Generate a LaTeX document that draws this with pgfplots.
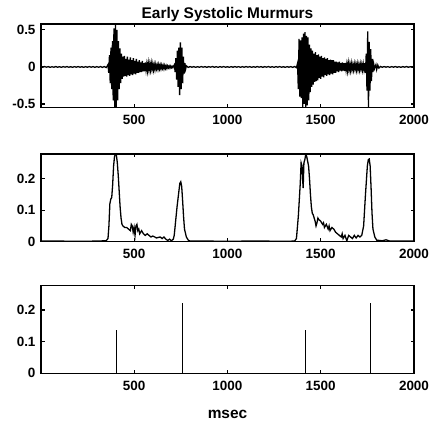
\documentclass[border=0pt]{standalone}
\usepackage{fontspec}
\setmainfont{Liberation Sans}
\usepackage{pgfplots}
\pgfplotsset{compat=1.18}
\newcommand{\lbl}{\fontsize{13.5}{15}\selectfont\bfseries}
\newcommand{\ttl}{\fontsize{15.5}{17}\selectfont\bfseries}
\pgfplotsset{
  mat/.style={
    scale only axis, width=373bp,
    xmin=1, xmax=2000,
    xtick={500,1000,1500,2000}, xticklabels={500,1000,1500,2000},
    tick align=inside, tick pos=both,
    major tick length=3.5bp,
    axis line style={line width=1.4pt},
    tick style={line width=1.1pt, black},
    ticklabel style={font=\lbl},
    xticklabel style={yshift=-4bp},
    yticklabel style={xshift=-2bp},
    clip=true,
  },
}
\begin{document}
\begin{tikzpicture}
\path[use as bounding box] (-41bp,-50.7bp) rectangle (390bp,373.3bp);

% top: phonocardiogram
\begin{axis}[mat, at={(0,266bp)}, height=83.3bp,
  ymin=-0.545, ymax=0.58,
  ytick={-0.5,0,0.5}, yticklabels={-0.5,0,0.5},
  title={Early Systolic Murmurs},
  title style={font=\ttl, anchor=base, at={(0.5,1)}},
]
\addplot[black, line width=1.3pt] coordinates {
(0,0.003)(10,-0.004)(20,0.005)(30,-0.003)(40,0.004)(50,-0.005)(60,0.003)(70,-0.004)(80,0.005)(90,-0.004)
(100,0.003)(110,-0.005)(120,0.004)(130,-0.003)(140,0.005)(150,-0.004)(160,0.003)(170,-0.005)(180,0.004)(190,-0.003)
(200,0.005)(210,-0.004)(220,0.003)(230,-0.005)(240,0.004)(250,-0.004)(260,0.005)(270,-0.003)(280,0.004)(290,-0.005)
(300,0.004)(310,-0.004)(320,0.005)(330,-0.006)(340,0.006)(350,-0.008)(356,0.01)
(360,0.03)(364,-0.08)(368,0.16)(372,-0.22)(376,0.26)(380,-0.30)(384,0.35)(388,-0.45)(392,0.52)(396,-0.545)
(400,0.58)(404,-0.545)(408,0.50)(412,-0.45)(416,0.35)(420,-0.30)(424,0.25)(428,-0.22)(432,0.18)(436,-0.16)
(440,0.14)(444,-0.13)(448,0.15)(452,-0.12)(456,0.11)(460,-0.13)(464,0.14)(468,-0.11)(472,0.10)(476,-0.12)
(480,0.13)(484,-0.10)(488,0.09)(492,-0.11)(496,0.12)(500,-0.09)(504,0.08)(508,-0.10)(512,0.11)(516,-0.08)
(520,0.07)(524,-0.08)(528,0.09)(532,-0.07)(536,0.06)(540,-0.07)(544,0.08)(548,-0.06)(552,0.05)(556,-0.06)
(560,0.06)(564,-0.04)(568,0.04)(572,-0.05)(576,0.05)(580,-0.04)(584,0.04)(588,-0.04)(592,0.05)(596,-0.03)
(600,0.04)(604,-0.04)(608,0.03)(612,-0.035)(616,0.035)(620,-0.025)(624,0.025)(628,-0.03)(632,0.03)(636,-0.025)
(640,0.025)(644,-0.025)(648,0.025)(652,-0.02)(656,0.02)(660,-0.025)(664,0.02)(668,-0.02)(672,0.015)(676,-0.02)
(680,0.015)(684,-0.012)(688,0.012)(692,-0.015)(696,0.012)(700,-0.01)(704,0.008)(708,-0.01)(712,0.012)
(716,0.03)(720,-0.07)(724,0.12)(728,-0.17)(732,0.22)(736,-0.27)(740,0.26)(744,-0.38)(748,0.33)(752,-0.30)
(756,0.26)(760,-0.22)(764,0.14)(768,-0.09)(772,0.05)(776,-0.03)(780,0.015)
(790,-0.006)(800,0.005)(810,-0.004)(820,0.004)(830,-0.005)(840,0.003)(850,-0.004)(860,0.005)(870,-0.003)(880,0.004)
(890,-0.005)(900,0.004)(910,-0.003)(920,0.005)(930,-0.004)(940,0.003)(950,-0.005)(960,0.004)(970,-0.003)(980,0.005)
(990,-0.004)(1000,0.003)(1010,-0.005)(1020,0.004)(1030,-0.004)(1040,0.005)(1050,-0.003)(1060,0.004)(1070,-0.005)(1080,0.004)
(1090,-0.004)(1100,0.005)(1110,-0.003)(1120,0.004)(1130,-0.005)(1140,0.003)(1150,-0.004)(1160,0.005)(1170,-0.003)(1180,0.004)
(1190,-0.005)(1200,0.004)(1210,-0.003)(1220,0.005)(1230,-0.004)(1240,0.003)(1250,-0.005)(1260,0.004)(1270,-0.003)(1280,0.005)
(1290,-0.004)(1300,0.003)(1310,-0.005)(1320,0.004)(1330,-0.004)(1340,0.005)(1350,-0.006)(1360,0.006)(1370,-0.01)
(1376,0.05)(1380,-0.30)(1384,0.38)(1388,-0.40)(1392,0.36)(1396,-0.42)(1400,0.40)(1404,-0.55)(1408,0.45)(1412,-0.50)
(1416,0.47)(1420,-0.55)(1424,0.42)(1428,-0.52)(1432,0.40)(1436,-0.45)(1440,0.30)(1444,-0.34)(1448,0.25)(1452,-0.27)
(1456,0.22)(1460,-0.24)(1464,0.18)(1468,-0.20)(1472,0.20)(1476,-0.19)(1480,0.16)(1484,-0.18)(1488,0.17)(1492,-0.15)
(1496,0.14)(1500,-0.16)(1504,0.15)(1508,-0.13)(1512,0.12)(1516,-0.14)(1520,0.13)(1524,-0.11)(1528,0.11)(1532,-0.12)
(1536,0.12)(1540,-0.10)(1544,0.09)(1548,-0.11)(1552,0.10)(1556,-0.09)(1560,0.09)(1564,-0.10)(1568,0.09)(1572,-0.08)
(1576,0.07)(1580,-0.08)(1584,0.07)(1588,-0.06)(1592,0.06)(1596,-0.07)(1600,0.07)(1604,-0.05)(1608,0.05)(1612,-0.06)
(1616,0.06)(1620,-0.05)(1624,0.05)(1628,-0.055)(1632,0.055)(1636,-0.04)(1640,0.04)(1644,-0.05)(1648,0.05)(1652,-0.04)
(1656,0.035)(1660,-0.045)(1664,0.045)(1668,-0.035)(1672,0.03)(1676,-0.04)(1680,0.04)(1684,-0.03)(1688,0.035)(1692,-0.04)
(1696,0.04)(1700,-0.035)(1704,0.03)(1708,-0.04)(1712,0.04)(1716,-0.03)(1720,0.035)(1724,-0.04)(1728,0.04)(1732,-0.035)
(1736,0.05)(1740,-0.08)(1744,0.18)(1748,-0.32)(1752,0.48)(1756,-0.55)(1760,0.34)(1764,-0.32)(1768,0.24)(1772,-0.19)
(1776,0.11)(1780,-0.07)(1784,0.04)(1788,-0.025)(1796,0.03)(1800,-0.035)(1806,0.025)(1812,-0.015)(1820,0.006)
(1830,-0.004)(1840,0.005)(1850,-0.003)(1860,0.004)(1870,-0.005)(1880,0.004)(1890,-0.003)(1900,0.005)(1910,-0.004)(1920,0.003)
(1930,-0.005)(1940,0.004)(1950,-0.003)(1960,0.005)(1970,-0.004)(1980,0.003)(1990,-0.005)(2000,0.004)
};
\end{axis}

% middle: envelope
\begin{axis}[mat, at={(0,131.6bp)}, height=87.7bp,
  ymin=0, ymax=0.278,
  ytick={0,0.1,0.2}, yticklabels={0,0.1,0.2},
]
\addplot[black, line width=1.3pt] coordinates {
(0,0.002)(100,0.002)(200,0.001)(300,0.002)(350,0.003)(360,0.01)(365,0.05)(370,0.12)(375,0.135)(380,0.14)
(385,0.18)(390,0.24)(395,0.27)(400,0.278)(405,0.275)(410,0.25)(415,0.21)(420,0.16)(425,0.11)(430,0.075)
(435,0.055)(440,0.05)(450,0.045)(460,0.045)(470,0.04)(480,0.035)(485,0.055)(490,0.05)(495,0.03)(500,0.045)
(505,0.02)(510,0.05)(515,0.055)(520,0.035)(525,0.04)(530,0.025)(540,0.035)(550,0.025)(560,0.02)(570,0.025)
(580,0.02)(590,0.015)(600,0.018)(620,0.012)(640,0.015)(650,0.01)(660,0.015)(670,0.008)(680,0.004)(690,0.008)
(700,0.003)(710,0.008)(715,0.02)(720,0.05)(730,0.11)(740,0.16)(745,0.185)(750,0.19)(755,0.175)(760,0.13)
(765,0.08)(770,0.04)(780,0.015)(790,0.005)(800,0.002)(900,0.002)(1000,0.001)(1100,0.002)(1200,0.002)(1300,0.001)
(1360,0.002)(1370,0.01)(1380,0.08)(1390,0.18)(1395,0.25)(1400,0.24)(1403,0.2)(1406,0.17)(1410,0.25)(1415,0.26)
(1420,0.278)(1425,0.27)(1430,0.255)(1435,0.24)(1440,0.2)(1445,0.15)(1450,0.11)(1455,0.09)(1460,0.085)(1465,0.075)
(1470,0.065)(1475,0.05)(1480,0.06)(1485,0.075)(1490,0.07)(1500,0.065)(1510,0.055)(1515,0.06)(1520,0.045)(1530,0.055)
(1540,0.04)(1545,0.05)(1550,0.035)(1560,0.045)(1570,0.04)(1580,0.03)(1590,0.025)(1600,0.02)(1610,0.015)(1615,0.025)
(1620,0.01)(1630,0.02)(1640,0.003)(1650,0.02)(1660,0.015)(1670,0.01)(1680,0.02)(1690,0.012)(1700,0.02)(1710,0.015)
(1720,0.02)(1730,0.05)(1740,0.15)(1750,0.24)(1755,0.26)(1760,0.262)(1765,0.24)(1770,0.17)(1775,0.09)(1780,0.04)
(1790,0.015)(1800,0.005)(1830,0.003)(1850,0.006)(1870,0.002)(2000,0.002)
};
\end{axis}

% bottom: detected events
\begin{axis}[mat, at={(0,0)}, height=88bp,
  ymin=0, ymax=0.278,
  ytick={0,0.1,0.2}, yticklabels={0,0.1,0.2},
  xlabel={msec},
  xlabel style={font=\ttl, at={(0.5,0)}, anchor=base, yshift=-44.7bp},
]
\addplot[black, ycomb, line width=1.3pt, no marks] coordinates {
(407,0.137)(760,0.223)(1419,0.137)(1766,0.223)
};
\end{axis}
\end{tikzpicture}
\end{document}
